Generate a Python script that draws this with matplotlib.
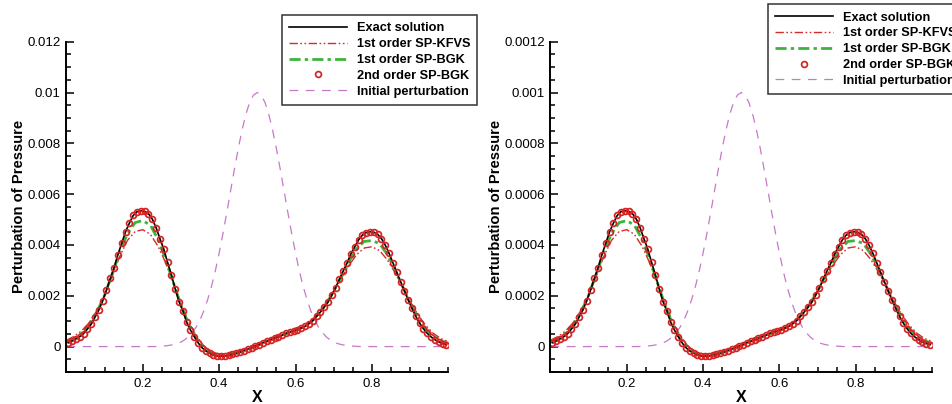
import numpy as np
import matplotlib
matplotlib.use('Agg')
from matplotlib import pyplot as plt
from matplotlib.ticker import FixedLocator, MultipleLocator, FuncFormatter

plt.rcParams['font.family'] = ['Liberation Sans', 'DejaVu Sans']

# all values below are in units of 1e-3 (left panel); right panel is the same run scaled by 0.1
xCell = np.arange(100) * 0.01 + 0.005     # cell centres of the 2nd order scheme
exact = [0.15, 0.22, 0.30, 0.39, 0.51, 0.69, 0.88, 1.16, 1.44, 1.80,
         2.22, 2.68, 3.11, 3.62, 4.07, 4.52, 4.86, 5.16, 5.31, 5.35,
         5.32, 5.23, 5.02, 4.68, 4.25, 3.84, 3.31, 2.82, 2.27, 1.77,
         1.41, 0.96, 0.65, 0.39, 0.15, -0.04, -0.17, -0.26, -0.33, -0.37,
         -0.38, -0.37, -0.35, -0.31, -0.27, -0.22, -0.16, -0.10, -0.04, 0.02,
         0.08, 0.15, 0.21, 0.27, 0.33, 0.39, 0.45, 0.52, 0.57, 0.61,
         0.67, 0.73, 0.80, 0.90, 1.02, 1.19, 1.36, 1.55, 1.75, 2.03,
         2.32, 2.65, 2.98, 3.29, 3.65, 3.92, 4.20, 4.39, 4.49, 4.52,
         4.50, 4.42, 4.25, 3.99, 3.67, 3.30, 2.93, 2.56, 2.20, 1.84,
         1.50, 1.19, 0.92, 0.70, 0.52, 0.38, 0.27, 0.19, 0.12, 0.08]
secondBGK = exact    # 2nd order SP-BGK sits on the exact curve

x1st = np.arange(51) * 0.02
kfvs = [0.25, 0.40, 0.62, 0.95, 1.42, 2.03, 2.78, 3.55, 4.18, 4.53,
        4.60, 4.42, 3.95, 3.30, 2.50, 1.70, 0.98, 0.42, 0.02, -0.20,
        -0.29, -0.29, -0.24, -0.15, -0.05, 0.06, 0.18, 0.30, 0.42, 0.53,
        0.64, 0.79, 1.00, 1.30, 1.70, 2.18, 2.70, 3.20, 3.62, 3.88,
        3.93, 3.78, 3.42, 2.92, 2.35, 1.78, 1.27, 0.85, 0.53, 0.32, 0.20]
bgk1 = [0.18, 0.32, 0.53, 0.86, 1.36, 2.02, 2.85, 3.72, 4.45, 4.88,
        4.96, 4.78, 4.22, 3.45, 2.53, 1.64, 0.88, 0.34, -0.05, -0.25,
        -0.33, -0.33, -0.27, -0.17, -0.06, 0.05, 0.18, 0.30, 0.42, 0.54,
        0.64, 0.77, 0.98, 1.28, 1.67, 2.17, 2.76, 3.35, 3.85, 4.14,
        4.17, 4.06, 3.63, 3.02, 2.37, 1.72, 1.16, 0.73, 0.42, 0.23, 0.13]

xInit = np.arange(101) * 0.01
initPert = [0] * 24 + [0.01, 0.02, 0.03, 0.05, 0.08, 0.12, 0.18, 0.27, 0.39, 0.56,
                       0.77, 1.05, 1.41, 1.85, 2.37, 2.98, 3.68, 4.45, 5.27, 6.13,
                       6.98, 7.79, 8.52, 9.14, 9.61, 9.90, 10.0, 9.90, 9.61, 9.14,
                       8.52, 7.79, 6.98, 6.13, 5.27, 4.45, 3.68, 2.98, 2.37, 1.85,
                       1.41, 1.05, 0.77, 0.56, 0.39, 0.27, 0.18, 0.12, 0.08, 0.05,
                       0.03, 0.02, 0.01] + [0] * 24

labels = ['Exact solution', '1st order SP-KFVS', '1st order SP-BGK',
          '2nd order SP-BGK', 'Initial perturbation']
xMajor = [0.2, 0.4, 0.6, 0.8]
yMajor = [0, 2, 4, 6, 8, 10, 12]     # x1e-3 on the left, x1e-4 on the right

fig = plt.figure(figsize=(9.52, 4.04), dpi=100)

panels = [  # axes rect, scale factor, legend anchor (axes coords)
    ([0.0697, 0.0792, 0.4012, 0.8176], 1e-3, (0.549, 1.099)),
    ([0.5782, 0.0792, 0.4008, 0.8176], 1e-4, (0.554, 1.132)),
]

for rect, s, anchor in panels:
    ax = fig.add_axes(rect)
    hInit, = ax.plot(xInit, np.array(initPert) * s, color='#c878c8', lw=0.9,
                     dashes=(7, 6))
    hK, = ax.plot(x1st, np.array(kfvs) * s, color='#d42b2b', lw=1.0,
                  dashes=(6, 1.8, 1.2, 1.8, 1.2, 1.8))
    hB, = ax.plot(x1st, np.array(bgk1) * s, color='#3cb43c', lw=2.0,
                  dashes=(4, 1.5, 1.2, 1.5))
    hE, = ax.plot(xCell, np.array(exact) * s, color='black', lw=1.2)
    h2, = ax.plot(xCell, np.array(secondBGK) * s, ls='none', marker='o', ms=4.2,
                  mfc='none', mec='#d42424', mew=1.25)

    ax.set_xlim(0, 1)
    ax.set_ylim(-1 * s, 12 * s)
    ax.xaxis.set_major_locator(FixedLocator(xMajor))
    ax.xaxis.set_minor_locator(MultipleLocator(0.05))
    ax.yaxis.set_major_locator(FixedLocator([v * s for v in yMajor]))
    ax.yaxis.set_minor_locator(MultipleLocator(0.5 * s))
    ax.xaxis.set_major_formatter(FuncFormatter(lambda v, p: '%g' % round(v, 6)))
    ax.yaxis.set_major_formatter(FuncFormatter(lambda v, p: '%g' % round(v, 8)))
    ax.tick_params(which='both', direction='in', width=1.1, labelsize=9.5, pad=4)
    ax.tick_params(which='major', length=6)
    ax.tick_params(which='minor', length=3.8)
    for side in ['top', 'right']:
        ax.spines[side].set_visible(False)
    for side in ['left', 'bottom']:
        ax.spines[side].set_linewidth(1.4)

    ax.set_xlabel('X', fontsize=11.5, fontweight='bold', labelpad=0)
    ax.set_ylabel('Perturbation of Pressure', fontsize=10.6, fontweight='bold', labelpad=1)

    leg = ax.legend([hE, hK, hB, h2, hInit], labels, loc='upper left',
                    bbox_to_anchor=anchor, frameon=True, fancybox=False,
                    edgecolor='#333333', framealpha=1, handlelength=4.5,
                    handletextpad=0.78, labelspacing=0.3, borderpad=0.55,
                    prop={'weight': 'bold', 'size': 9.2})
    leg.get_frame().set_linewidth(1.1)

fig.savefig('out.png', dpi=100)
